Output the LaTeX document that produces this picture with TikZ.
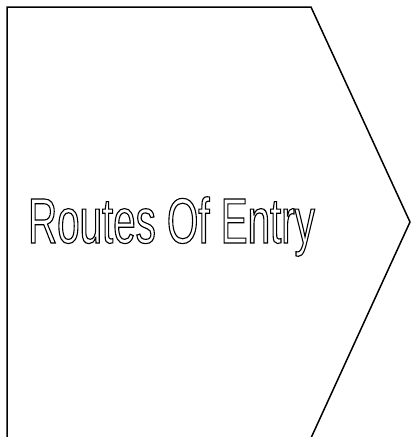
\documentclass[tikz,border=0pt]{standalone}
\usepackage{fontspec}
\setmainfont{Liberation Sans}
\newfontfamily\narrowsans[FakeStretch=0.63]{Liberation Sans}
\usepackage{tikz}
\usetikzlibrary{positioning}
% hollow letters: stroke only
\newcommand{\hollowtext}[1]{\special{pdf:literal direct 1 Tr 1.1 w}#1\special{pdf:literal direct 0 Tr}}

\begin{document}
\begin{tikzpicture}[x=1pt,y=-1pt,line width=1.5pt]
  \useasboundingbox (0,0) rectangle (411,437);
  \draw[line join=miter] (7,437) -- (7,7) -- (311,7) -- (410,222) -- (311,438);
  \node[anchor=base,inner sep=0pt,font=\narrowsans\fontsize{64}{64}\selectfont] (title) at (171.5,243) {\hollowtext{Routes Of Entry}};
\end{tikzpicture}
\end{document}
